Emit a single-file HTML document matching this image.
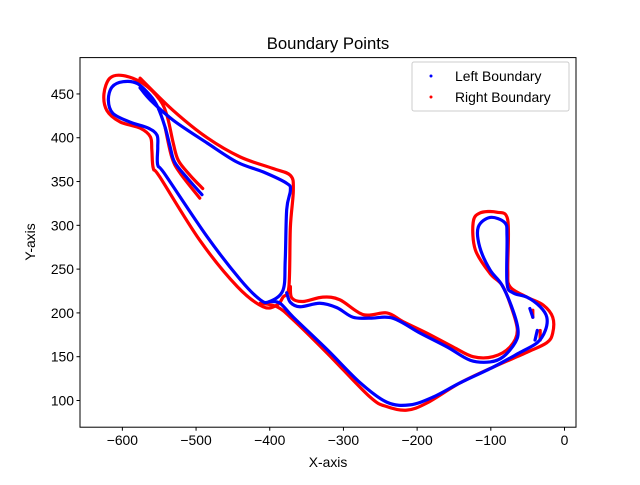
<!DOCTYPE html>
<html><head><meta charset="utf-8"><style>
body{margin:0;background:#fff;font-family:"Liberation Sans",sans-serif}
svg text{font-family:"Liberation Sans",sans-serif}
</style></head><body>
<svg id="chart" width="640" height="480" xmlns="http://www.w3.org/2000/svg">
<rect width="640" height="480" fill="#fff"/>
<text x="328" y="49" font-size="16.7" text-anchor="middle">Boundary Points</text>
<g id="plot"></g>
<g id="axes"></g>
<rect x="80" y="57.6" width="496" height="369.6" fill="none" stroke="#000" stroke-width="1"/>
<text x="328" y="467" font-size="13.9" text-anchor="middle">X-axis</text>
<text transform="translate(35,242) rotate(-90)" font-size="13.9" text-anchor="middle">Y-axis</text>
<g>
<rect x="412" y="62" width="157" height="49" rx="2" fill="#fff" stroke="#ccc"/>
<circle cx="431" cy="76" r="1.5" fill="blue"/>
<text x="455" y="81" font-size="13.9">Left Boundary</text>
<circle cx="431" cy="97" r="1.5" fill="red"/>
<text x="455" y="102" font-size="13.9">Right Boundary</text>
</g>
</svg>
<script>
const xTicks=[-600,-500,-400,-300,-200,-100,0];
const yTicks=[100,150,200,250,300,350,400,450];
const leftStrands=[
[[-492,335],[-512,354],[-529,372],[-535,389],[-542,412],[-552,435],[-562,448],[-580,462],[-599,464],[-614,458],[-619,443],[-613,428],[-590,418],[-565,411],[-553,403],[-552,389],[-552,369],[-542,358],[-485,287],[-440,238],[-413,215],[-400,213],[-382,226],[-379,260],[-377,318],[-372,340],[-377,348],[-409,361],[-444,372],[-485,394],[-531,420],[-562,443],[-576,457]],
[[-377,223],[-372,212],[-359,207],[-332,211],[-309,206],[-287,195],[-264,194],[-233,194],[-196,177],[-159,161],[-128,146],[-101,144],[-83,150],[-67,166],[-63,180],[-70,203],[-85,232],[-101,249],[-115,275],[-117,298],[-101,309],[-81,303],[-78,287],[-78,234],[-70,223],[-51,218],[-33,207],[-24,195],[-26,180],[-37,166],[-60,155],[-97,138],[-142,120],[-178,104],[-210,95],[-241,98],[-277,120],[-322,158],[-368,195],[-386,211],[-400,213]],
[[-47,205],[-43,195]],
[[-37,180],[-40,169]]
];
const rightStrands=[
[[-491,342],[-508,357],[-524,374],[-531,394],[-539,424],[-549,443],[-572,462],[-599,471],[-617,468],[-625,450],[-621,431],[-603,418],[-576,411],[-562,401],[-560,386],[-558,365],[-549,355],[-495,283],[-444,230],[-409,207],[-390,209],[-382,218],[-374,230],[-372,298],[-368,340],[-372,357],[-396,365],[-440,378],[-485,400],[-531,431],[-576,468]],
[[-495,331],[-522,360],[-533,378],[-542,412]],
[[-372,230],[-370,217],[-355,213],[-328,218],[-305,215],[-273,198],[-241,200],[-219,190],[-187,177],[-151,161],[-124,150],[-97,150],[-74,161],[-64,180],[-74,211],[-85,232],[-101,245],[-121,272],[-124,303],[-115,314],[-92,315],[-77,306],[-77,249],[-74,230],[-51,218],[-29,209],[-16,195],[-16,177],[-24,166],[-51,155],[-97,138],[-142,120],[-187,97],[-214,89],[-241,93],[-264,104],[-322,154],[-368,192],[-390,207],[-413,211]],
[[-43,203],[-43,195]],
[[-33,180],[-33,169]]
];
const X0=-657.5,X1=15.6,Y0=69.5,Y1=491.5;
const L=80,T=57.6,W=496,H=369.6;
function sx(v){return L+(v-X0)/(X1-X0)*W;}
function sy(v){return T+H-(v-Y0)/(Y1-Y0)*H;}
const NS='http://www.w3.org/2000/svg';
const plot=document.getElementById('plot'),axes=document.getElementById('axes');
function smoothPath(pts){
let d='M'+pts[0][0]+','+pts[0][1];
for(let i=0;i<pts.length-1;i++){
const p0=pts[Math.max(0,i-1)],p1=pts[i],p2=pts[i+1],p3=pts[Math.min(pts.length-1,i+2)];
const c1=[p1[0]+(p2[0]-p0[0])/6,p1[1]+(p2[1]-p0[1])/6];
const c2=[p2[0]-(p3[0]-p1[0])/6,p2[1]-(p3[1]-p1[1])/6];
d+=' C'+c1[0]+','+c1[1]+' '+c2[0]+','+c2[1]+' '+p2[0]+','+p2[1];}
return d;}
function drawStrands(arr,color,name){
arr.forEach(s=>{
const p=document.createElementNS(NS,'path');
p.setAttribute('d',smoothPath(s.map(q=>[sx(q[0]),sy(q[1])])));
p.setAttribute('fill','none');p.setAttribute('stroke',color);
p.setAttribute('stroke-width','3.2');p.setAttribute('stroke-linejoin','round');p.setAttribute('stroke-linecap','round');


plot.appendChild(p);});
}
drawStrands(rightStrands,'red','right-boundary-points');
drawStrands(leftStrands,'blue','left-boundary-points');
xTicks.forEach(v=>{
const x=sx(v);
const l=document.createElementNS(NS,'line');
l.setAttribute('x1',x);l.setAttribute('x2',x);l.setAttribute('y1',T+H);l.setAttribute('y2',T+H+3.5);l.setAttribute('stroke','#000');


axes.appendChild(l);
const t=document.createElementNS(NS,'text');
t.setAttribute('x',x);t.setAttribute('y',T+H+18);t.setAttribute('font-size','13.9');t.setAttribute('text-anchor','middle');
t.textContent=v<0?'\u2212'+(-v):String(v);


axes.appendChild(t);});
yTicks.forEach(v=>{
const y=sy(v);
const l=document.createElementNS(NS,'line');
l.setAttribute('x1',L-3.5);l.setAttribute('x2',L);l.setAttribute('y1',y);l.setAttribute('y2',y);l.setAttribute('stroke','#000');


axes.appendChild(l);
const t=document.createElementNS(NS,'text');
t.setAttribute('x',L-6);t.setAttribute('y',y+5);t.setAttribute('font-size','13.9');t.setAttribute('text-anchor','end');
t.textContent=String(v);


axes.appendChild(t);});
</script>
</body></html>
